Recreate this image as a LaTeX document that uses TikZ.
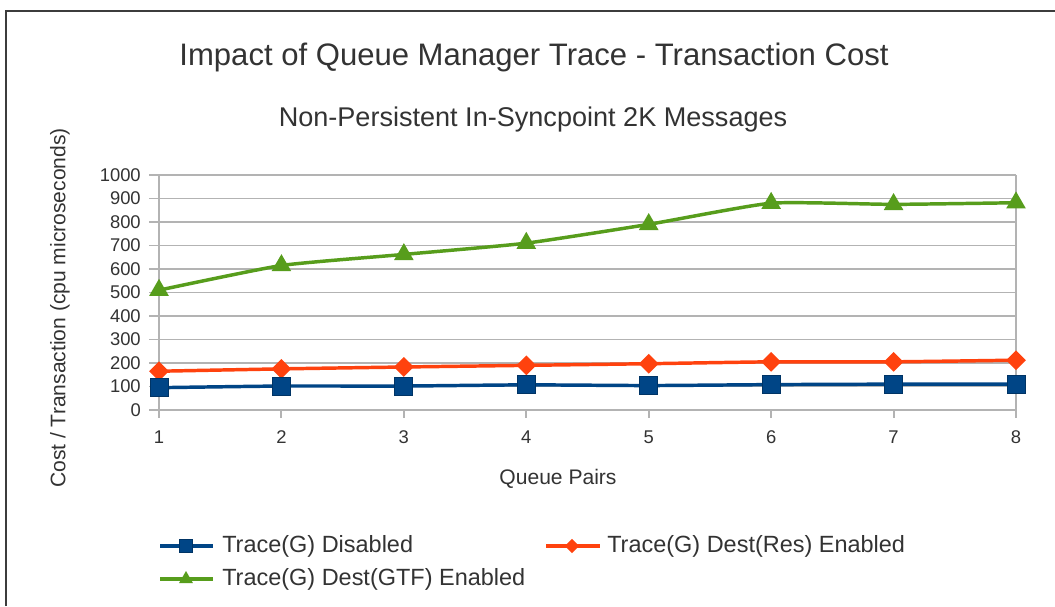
\documentclass[tikz,border=0pt]{standalone}
\usepackage{fontspec}
\setmainfont{Liberation Sans}
\usetikzlibrary{shapes.geometric}
\definecolor{sblue}{HTML}{004586}
\definecolor{sorange}{HTML}{FF420E}
\definecolor{sgreen}{HTML}{579D1C}
\definecolor{gridc}{HTML}{B3B3B3}
\definecolor{txtc}{HTML}{333333}
\definecolor{framec}{HTML}{3C3C3C}
\begin{document}
\begin{tikzpicture}[x=0.75pt,y=-0.75pt,
  titletxt/.style={text=txtc,font=\fontsize{23.3}{27}\selectfont,inner sep=0pt},
  subtxt/.style={text=txtc,font=\fontsize{20.3}{24}\selectfont,inner sep=0pt},
  ticklab/.style={text=txtc,font=\fontsize{13.8}{16}\selectfont,inner sep=0pt},
  axlab/.style={text=txtc,font=\fontsize{15.8}{18}\selectfont,inner sep=0pt},
  legtxt/.style={text=txtc,font=\fontsize{17.6}{20}\selectfont,inner sep=0pt,anchor=west},
  gridline/.style={gridc,line width=1.4pt},
  sline/.style={line width=2.6pt,line join=round},
  sqmark/.style={rectangle,draw=sblue!75!black,fill=sblue,line width=0.6pt,minimum size=13.5pt,inner sep=0pt},
  dmmark/.style={diamond,fill=sorange,minimum size=15pt,inner sep=0pt},
  trmark/.style={regular polygon,regular polygon sides=3,fill=sgreen,minimum size=17pt,inner sep=0pt},
]
\useasboundingbox (0,0) rectangle (1055,606);
\fill[white] (0,0) rectangle (1055,606);
\draw[framec,line width=1.6pt] (6,606) -- (6,11) -- (1055,11);

\node[titletxt] (title) at (534,57) {Impact of Queue Manager Trace - Transaction Cost};
\node[subtxt] (subtitle) at (533,120) {Non-Persistent In-Syncpoint 2K Messages};

\begin{scope}[shift={(159,410)},x=91.82pt,y=0.17625pt]
  \foreach \v in {0,100,...,1000}
    \draw[gridline] (-0.0817,\v) -- (7,\v);
  \draw[gridline] (0,0) -- (0,1000);
  \draw[gridline] (7,0) -- (7,1000);
  \foreach \q in {0,...,7}
    \draw[gridline] (\q,0) -- (\q,-34);
  \foreach \v in {0,100,...,1000}
    \node[ticklab,anchor=east] (yl\v) at (-0.147,\v) {\v};
  \foreach \q [evaluate=\q as \lab using int(\q+1)] in {0,...,7}
    \node[ticklab] (xl\q) at (\q,-115) {\lab};

  \draw[sline,sgreen] plot[smooth,tension=0.3] coordinates
    {(0,510) (1,615) (2,662) (3,710) (4,790) (5,880) (6,875) (7,882)};
  \draw[sline,sorange] plot[smooth,tension=0.3] coordinates
    {(0,165) (1,175) (2,183) (3,190) (4,197) (5,205) (6,205) (7,212)};
  \draw[sline,sblue] plot[smooth,tension=0.3] coordinates
    {(0,95) (1,102) (2,102) (3,107) (4,104) (5,108) (6,110) (7,110)};

  \foreach \q/\v in {0/510,1/615,2/662,3/710,4/790,5/880,6/875,7/882}
    \node[trmark] (g\q) at (\q,\v) {};
  \foreach \q/\v in {0/165,1/175,2/183,3/190,4/197,5/205,6/205,7/212}
    \node[dmmark] (r\q) at (\q,\v) {};
  \foreach \q/\v in {0/95,1/102,2/102,3/107,4/104,5/108,6/110,7/110}
    \node[sqmark] (b\q) at (\q,\v) {};
\end{scope}

\node[axlab,rotate=90] (ytitle) at (60,308) {Cost / Transaction (cpu microseconds)};
\node[axlab] (xtitle) at (558,479) {Queue Pairs};

% legend
\coordinate (lb1) at (160,546); \coordinate (lb2) at (213,546);
\draw[sline,sblue] (lb1) -- (lb2);
\node[sqmark,minimum size=9.5pt] (lbm) at (186,546) {};
\node[legtxt] (lbt) at (222,546) {Trace(G) Disabled};

\coordinate (lr1) at (546,546); \coordinate (lr2) at (600,546);
\draw[sline,sorange] (lr1) -- (lr2);
\node[dmmark,minimum size=11pt] (lrm) at (572,546) {};
\node[legtxt] (lrt) at (607,546) {Trace(G) Dest(Res) Enabled};

\coordinate (lg1) at (160,579); \coordinate (lg2) at (213,579);
\draw[sline,sgreen] (lg1) -- (lg2);
\node[trmark,minimum size=12pt] (lgm) at (186,579) {};
\node[legtxt] (lgt) at (222,579) {Trace(G) Dest(GTF) Enabled};
\end{tikzpicture}
\end{document}
